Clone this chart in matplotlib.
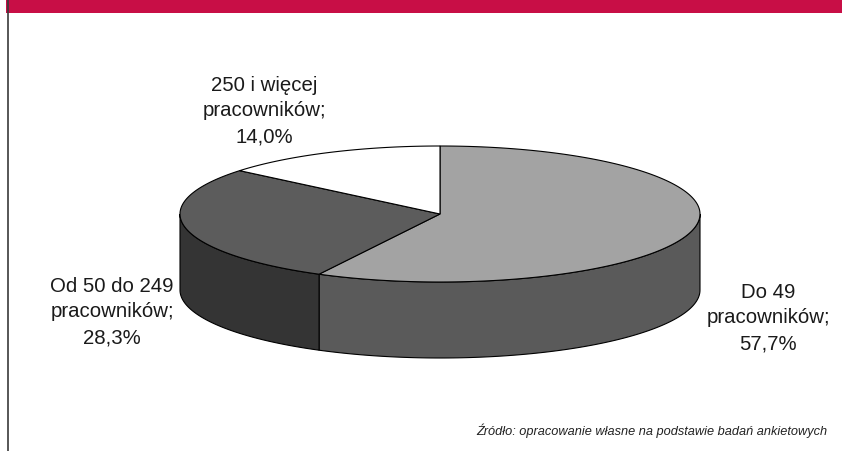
import numpy as np
import matplotlib
matplotlib.use("Agg")
import matplotlib.pyplot as plt
from matplotlib.patches import Polygon, Rectangle

# Udział przedsiębiorstw wg wielkości zatrudnienia
labels = ["Do 49\npracowników;\n57,7%",
          "Od 50 do 249\npracowników;\n28,3%",
          "250 i więcej\npracowników;\n14,0%"]
shares = [57.7, 28.3, 14.0]
top_colors = ["#a3a3a3", "#5c5c5c", "#ffffff"]
side_colors = ["#5a5a5a", "#343434", "#d0d0d0"]
label_pos = [(768, 318), (112, 312), (264, 111)]
source = "Źródło: opracowanie własne na podstawie badań ankietowych"

plt.rcParams["font.family"] = ["Liberation Sans", "DejaVu Sans"]

fig = plt.figure(figsize=(8.42, 4.52), dpi=100)
ax = fig.add_axes([0, 0, 1, 1])
ax.set_xlim(0, 842)
ax.set_ylim(452, 0)
ax.axis("off")

# header bar and left rule
ax.add_patch(Rectangle((6, 0), 836, 14, color="#c80e46", lw=0))
ax.plot([8, 8], [0, 452], color="#3a3a3a", lw=1.2)

# 3d pie geometry
cx, cy, a, b, depth = 440, 215, 260, 68, 76


def pt(theta, dy=0.0):
    return cx + a * np.cos(theta), cy - b * np.sin(theta) + dy


# wedges go clockwise from 12 o'clock
bounds = 90 - np.concatenate([[0], np.cumsum(shares)]) * 3.6
wedges = [(bounds[i + 1], bounds[i]) for i in range(len(shares))]

# side walls (front half only: 180..360 deg)
for (t1, t2), col in zip(wedges, side_colors):
    lo, hi = t1 % 360, (t1 % 360) + (t2 - t1)
    for shift in (0, 360, -360):
        s = max(lo + shift, 180)
        e = min(hi + shift, 360)
        if e <= s:
            continue
        th = np.radians(np.linspace(s, e, 120))
        xs, ys = pt(th)
        xb, yb = pt(th[::-1], depth)
        verts = np.column_stack([np.r_[xs, xb], np.r_[ys, yb]])
        ax.add_patch(Polygon(verts, closed=True, fc=col, ec="black", lw=0.8, zorder=2))

# top faces
for (t1, t2), col in zip(wedges, top_colors):
    th = np.radians(np.linspace(t1, t2, 200))
    xs, ys = pt(th)
    verts = np.column_stack([np.r_[cx, xs], np.r_[cy, ys]])
    ax.add_patch(Polygon(verts, closed=True, fc=col, ec="black", lw=0.8, zorder=3))

for txt, (x, y) in zip(labels, label_pos):
    ax.text(x, y, txt, ha="center", va="center", fontsize=14.7,
            linespacing=1.45, color="#1a1a1a")

ax.text(827, 431, source, ha="right", va="center", fontsize=9.2,
        style="italic", color="#222222")

fig.savefig("out.png", dpi=100)
